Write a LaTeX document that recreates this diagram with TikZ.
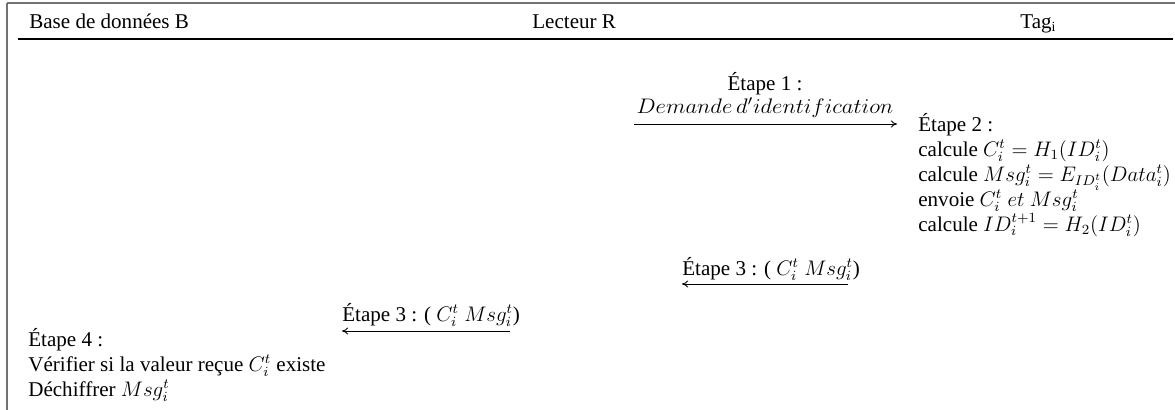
\documentclass[tikz,border=0pt]{standalone}
\usepackage{fontspec}
\usepackage{graphicx}
\setmainfont{Liberation Serif}
\usetikzlibrary{arrows.meta}
\begin{document}
\begin{tikzpicture}[x=0.57pt,y=-0.57pt,
  font=\fontsize{12}{14}\selectfont,
  txt/.style={inner sep=0pt,anchor=base west},
  ctxt/.style={inner sep=0pt,anchor=base},
  frame/.style={line width=0.8pt,draw=black!55},
  rule/.style={line width=0.9pt},
  msg/.style={line width=0.5pt,-{To[length=3.5pt,width=4pt]}}]
\useasboundingbox (0,0) rectangle (1175,410);
% table frame
\draw[frame] (7,3) -- (1175,3);
\draw[frame] (7,3) -- (7,410);
\draw[rule] (18,39) -- (1173,39);
% column heads
\node[txt] (hb) at (29,28) {Base de données B};
\node[txt] (hr) at (532,28) {Lecteur R};
\node[txt] (ht) at (1020,28) {Tag\textsubscript{i}};
% step 1: reader to tag
\node[ctxt] (e1) at (765,90) {Étape 1 :};
\node[ctxt] (d1) at (765,113) {\scalebox{1.08}[1]{$Demande\,d'identification$}};
\coordinate (a1s) at (634,124);
\coordinate (a1e) at (897,124);
\draw[msg] (a1s) -- (a1e);
% step 2: tag computations
\node[txt] (e2) at (918,131) {Étape 2 :};
\node[txt] (l1) at (918,156) {calcule $C_i^t = H_1(ID_i^t)$};
\node[txt] (l2) at (918,181) {calcule $Msg_i^t = E_{ID_i^t}(Data_i^t)$};
\node[txt] (l3) at (918,206) {envoie $C_i^t\ et\ Msg_i^t$};
\node[txt] (l4) at (918,231) {calcule $ID_i^{t+1} = H_2(ID_i^t)$};
% step 3, tag to reader
\coordinate (a3s) at (848,284);
\coordinate (a3e) at (682,284);
\node[txt] (e3a) at (682,275) {Étape 3 : ( $C_i^t\ Msg_i^t$)};
\draw[msg] (a3s) -- (a3e);
% step 3, reader to database
\coordinate (a3bs) at (510,331);
\coordinate (a3be) at (342,331);
\node[txt] (e3b) at (342,321) {Étape 3 : ( $C_i^t\ Msg_i^t$)};
\draw[msg] (a3bs) -- (a3be);
% step 4: database checks
\node[txt] (e4) at (28,346) {Étape 4 :};
\node[txt] (v1) at (28,371) {Vérifier si la valeur reçue $C_i^t$ existe};
\node[txt] (v2) at (28,396) {Déchiffrer $Msg_i^t$};
\end{tikzpicture}
\end{document}
